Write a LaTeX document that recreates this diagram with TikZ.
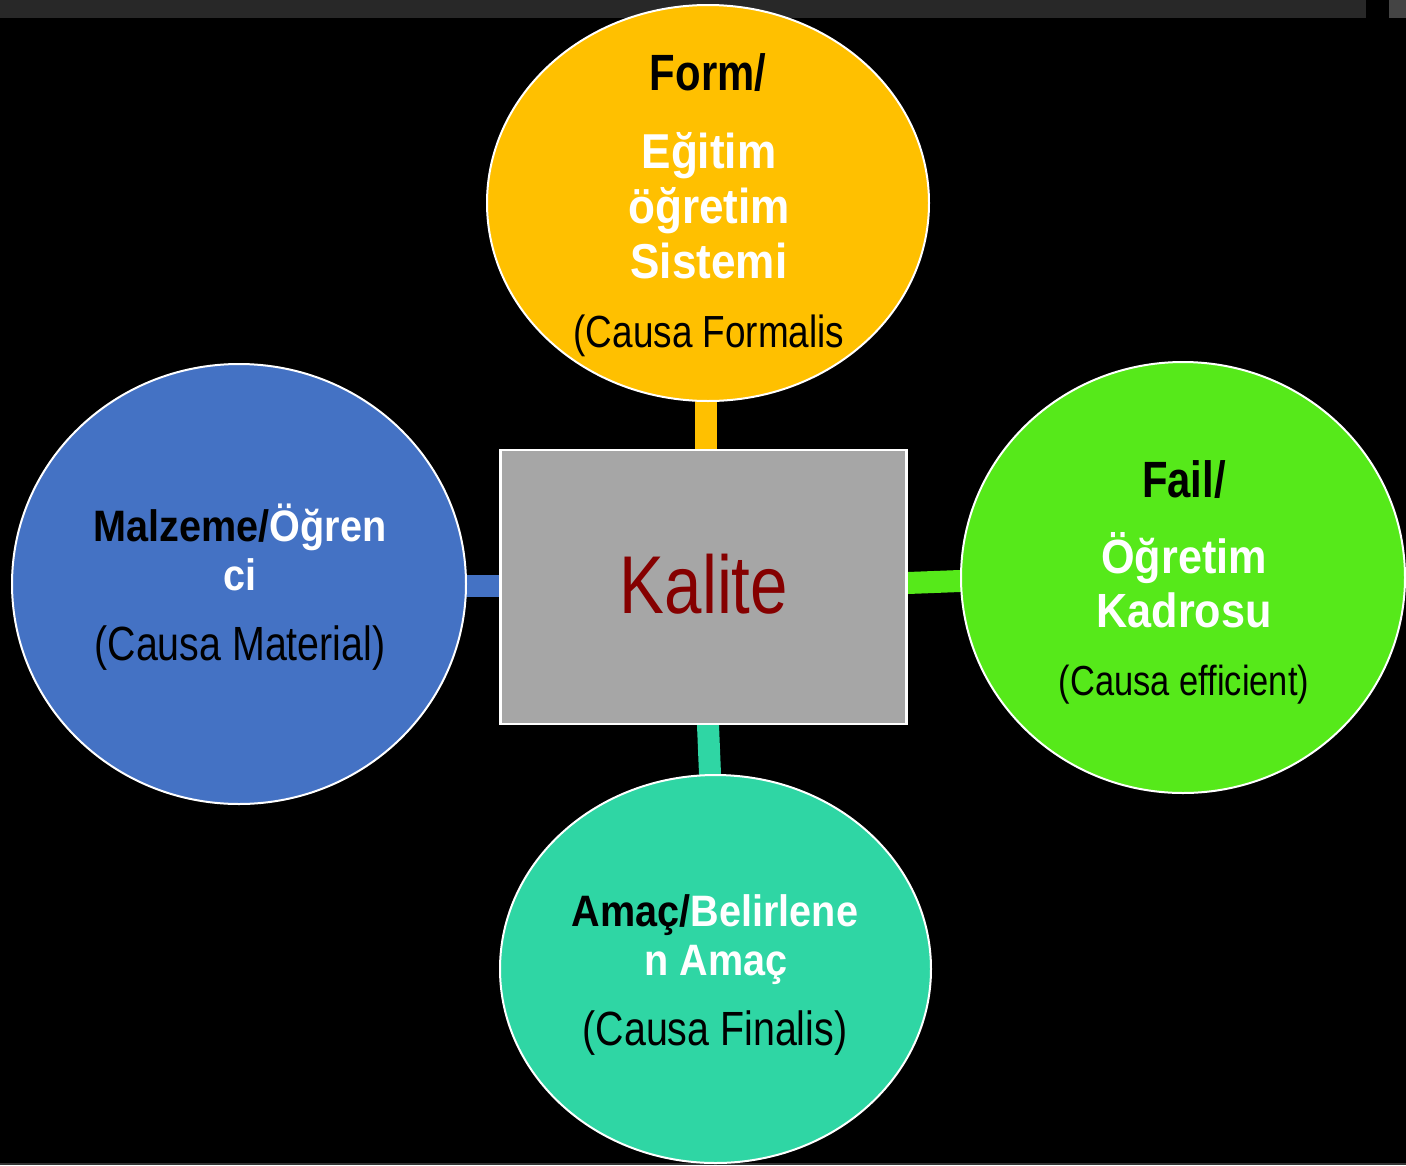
\documentclass[tikz,border=0pt]{standalone}
\usepackage{fontspec}
\setmainfont{Liberation Sans}[FakeStretch=0.82]
\newfontfamily\wbf{Liberation Sans}[FakeStretch=0.9]
\usetikzlibrary{shapes.geometric}
\definecolor{cOrange}{HTML}{FFC000}
\definecolor{cBlue}{HTML}{4472C4}
\definecolor{cGreen}{HTML}{56E91A}
\definecolor{cTeal}{HTML}{2FD6A4}
\definecolor{cRect}{HTML}{A6A6A6}
\definecolor{cKal}{HTML}{850000}
\definecolor{cBar}{HTML}{282828}
\definecolor{cBlock}{HTML}{444444}
\definecolor{cLine}{HTML}{333333}
\pgfdeclarelayer{bg}
\pgfdeclarelayer{links}
\pgfsetlayers{bg,links,main}
\tikzset{
  cause/.style={ellipse, draw=white, line width=2pt, inner sep=0pt},
  lbl/.style={anchor=base, inner sep=0pt, align=center},
  link/.style={line width=22pt, line cap=butt, shorten <=-4pt, shorten >=-4pt},
  hd/.style={font=\fontsize{51}{51}\selectfont\bfseries},
  wt/.style={font=\wbf\fontsize{49}{49}\selectfont\bfseries, text=white},
  wts/.style={font=\wbf\fontsize{44}{44}\selectfont\bfseries},
  cs/.style={text=black}
}
\begin{document}
\begin{tikzpicture}[x=1pt,y=-1pt]
\begin{pgfonlayer}{bg}
\fill[black] (0,0) rectangle (1406,1165);
\fill[cBar] (0,0) rectangle (1366,18);
\fill[cBlock] (1389,0) rectangle (1406,18);
\fill[cLine] (0,1163) rectangle (1406,1165);
\end{pgfonlayer}
\useasboundingbox (0,0) rectangle (1406,1165);

% shapes
\node[cause, fill=cOrange, minimum width=442pt, minimum height=396pt] (form) at (708,203) {};
\node[cause, fill=cBlue, minimum width=454pt, minimum height=440pt] (mat) at (239,584) {};
\node[cause, fill=cGreen, minimum width=444pt, minimum height=431pt] (eff) at (1183,577.5) {};
\node[cause, fill=cTeal, minimum width=431pt, minimum height=388pt] (fin) at (715.5,969) {};
\node[draw=white, line width=2.5pt, fill=cRect, minimum width=406pt, minimum height=274pt, inner sep=0pt] (kal) at (703.5,587) {};

% connectors
\begin{pgfonlayer}{links}
\draw[link, cOrange] ([xshift=-2pt]form.south) -- ([xshift=2.5pt]kal.north);
\draw[link, cBlue] ([yshift=-2pt]mat.east) -- ([yshift=1pt]kal.west);
\draw[link, cGreen] ([yshift=4pt]kal.east) -- ([yshift=-3.5pt]eff.west);
\draw[link, cTeal] ([xshift=4.5pt]kal.south) -- ([xshift=-5.5pt]fin.north);
\end{pgfonlayer}

% centre
\node[lbl, text=cKal, font=\fontsize{82}{82}\selectfont] (kaltext) at (704,613) {Kalite};

% top
\node[lbl, hd] (formA) at (708,90) {Form/};
\node[lbl, wt] (formB) at (709,168) {Eğitim};
\node[lbl, wt] (formC) at (709,223) {öğretim};
\node[lbl, wt] (formD) at (709,278) {Sistemi};
\node[lbl, font=\fontsize{45}{45}\selectfont] (formE) at (709,347) {(Causa Formalis};

% left
\node[lbl, wts] (matA) at (240,541) {Malzeme/\textcolor{white}{Öğren}};
\node[lbl, wts, text=white] (matB) at (240,590) {ci};
\node[lbl, font=\fontsize{48}{48}\selectfont] (matC) at (240,660) {(Causa Material)};

% right
\node[lbl, hd] (effA) at (1184,497) {Fail/};
\node[lbl, wt, font=\wbf\fontsize{48}{48}\selectfont\bfseries] (effB) at (1184,573) {Öğretim};
\node[lbl, wt, font=\wbf\fontsize{48}{48}\selectfont\bfseries] (effC) at (1184,627) {Kadrosu};
\node[lbl, font=\fontsize{42}{42}\selectfont] (effD) at (1184,695) {(Causa efficient)};

% bottom
\node[lbl, wts] (finA) at (715,926) {Amaç/\textcolor{white}{Belirlene}};
\node[lbl, wts, text=white] (finB) at (716,975) {n Amaç};
\node[lbl, font=\fontsize{48}{48}\selectfont] (finC) at (715,1045) {(Causa Finalis)};
\end{tikzpicture}
\end{document}
